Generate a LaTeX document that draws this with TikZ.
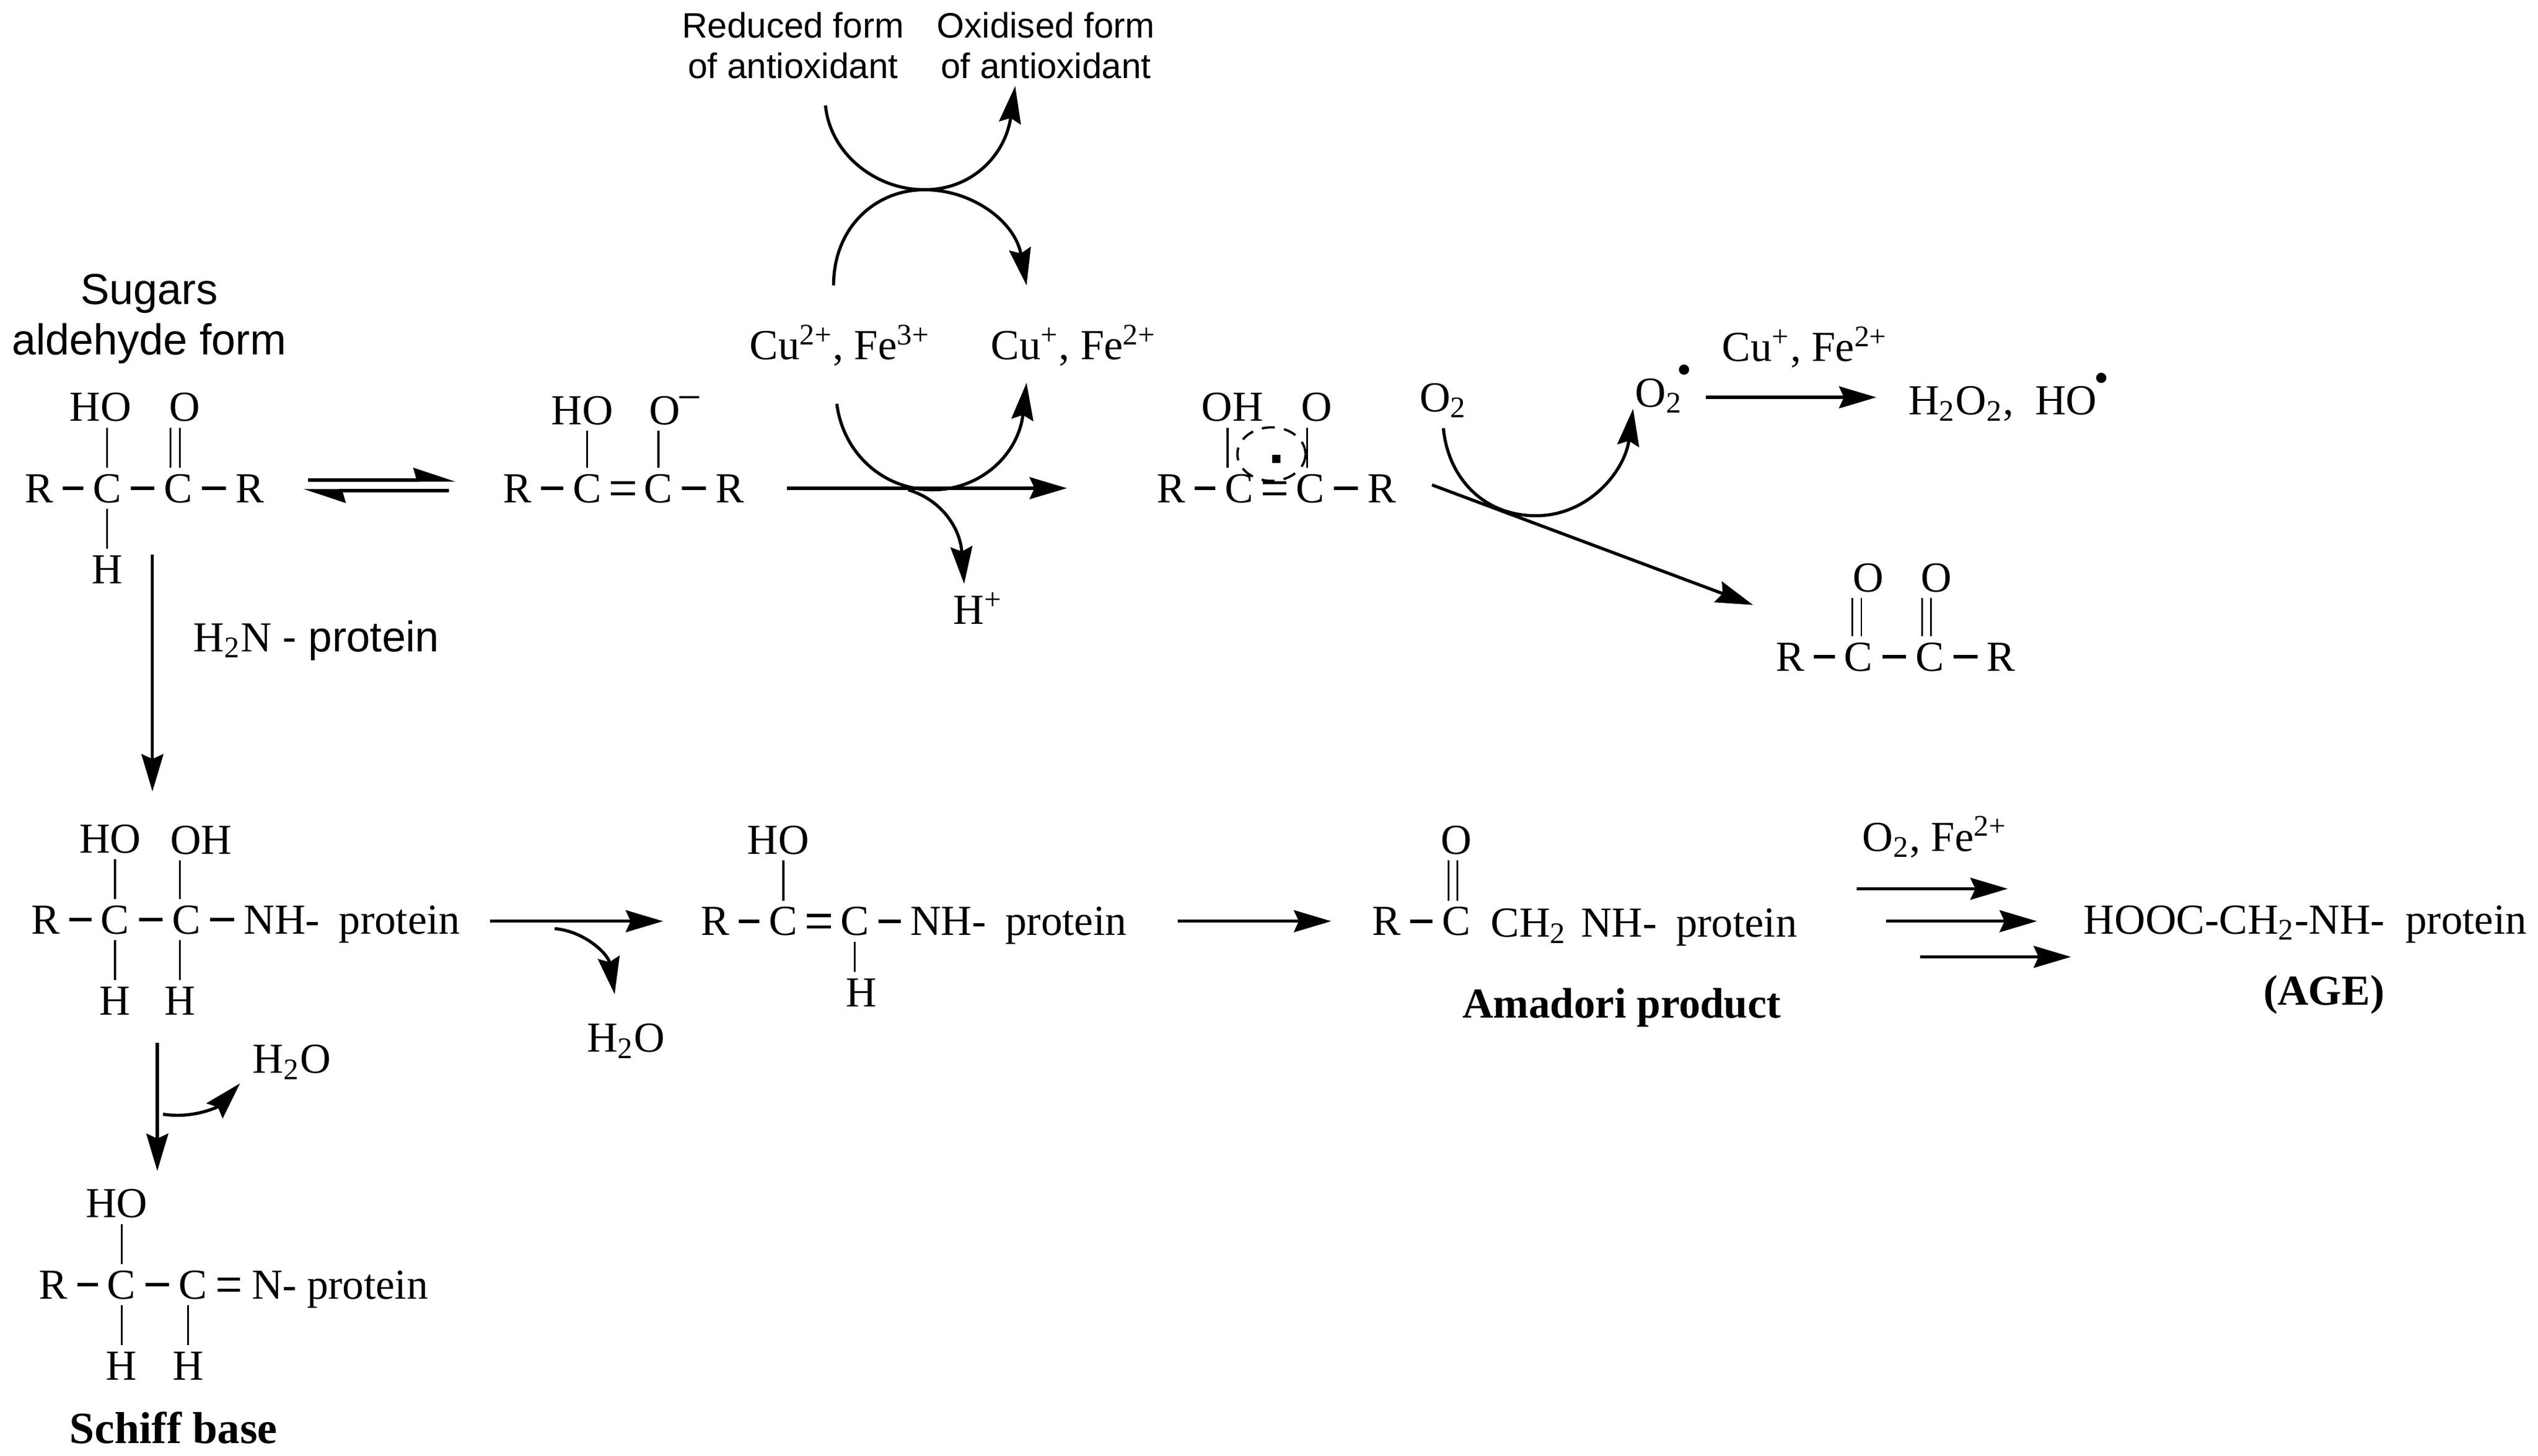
\documentclass[tikz,border=0pt]{standalone}
\usepackage{fontspec}
\setmainfont{Liberation Serif}
\newfontfamily\arialfont{Liberation Sans}
\usetikzlibrary{shapes,shapes.geometric,arrows,arrows.meta}

\begin{document}
\begin{tikzpicture}[x=0.02cm, y=-0.02cm, node distance=0.88cm, font=\fontsize{15}{18}\selectfont]
		% Define the styles for the atoms, labels and lines
		\tikzstyle{atom}=[inner sep=0pt, text height=10pt, text depth=0pt]
		\tikzstyle{note}=[align=center, inner sep=0pt, font=\arialfont\fontsize{12.4}{14.2}\selectfont]
		\tikzstyle{bond}=[line width=1.2pt, shorten <=0.11cm, shorten >=0.11cm]
		\tikzstyle{dbond}=[bond, double, double distance=0.1cm, line width=1.1pt]
		\tikzstyle{vbond}=[line width=0.7pt, shorten <=0.07cm, shorten >=0.07cm]
		\tikzstyle{dvbond}=[vbond, double, double distance=0.09cm, line width=0.6pt]
		\tikzstyle{arr}=[line width=1.1pt, -{Stealth[length=0.46cm, width=0.27cm, inset=0.06cm]}]
		\tikzstyle{half}=[line width=1.1pt, -{Stealth[harpoon, length=0.46cm, width=0.3cm, inset=0.04cm]}]

		\useasboundingbox (0,0) rectangle (1565,897.7);

		% Sugar in aldehyde form
		\node (sugars) [note, font=\arialfont\fontsize{15.2}{18}\selectfont] at (92,181) {Sugars};
		\node (aldehyde) [note, font=\arialfont\fontsize{15.2}{18}\selectfont] at (92,212) {aldehyde form};
		\node (R_ald) [atom] at (24,301) {R};
		\node (C_ald1) [atom, right of=R_ald, xshift=-0.04cm] {C};
		\node (C_ald2) [atom, right of=C_ald1] {C};
		\node (Rr_ald) [atom, right of=C_ald2] {R};
		\node (HO_ald) [atom, node distance=1cm, above of=C_ald1, xshift=-0.08cm] {HO};
		\node (O_ald) [atom, node distance=1cm, above of=C_ald2, xshift=0.08cm] {O};
		\node (H_ald) [atom, node distance=1cm, below of=C_ald1] {H};
		\draw[bond] (R_ald) -- (C_ald1);
		\draw[bond] (C_ald1) -- (C_ald2);
		\draw[bond] (C_ald2) -- (Rr_ald);
		\draw[vbond] (C_ald1.north) -- (C_ald1.north |- HO_ald.south);
		\draw[dvbond] ([xshift=-0.04cm]C_ald2.north) -- ([xshift=-0.04cm]C_ald2.north |- O_ald.south);
		\draw[vbond] (C_ald1.south) -- (H_ald.north);

		% Enolate
		\node (R_eno) [atom] at (319,301) {R};
		\node (C_eno1) [atom, right of=R_eno, xshift=-0.02cm] {C};
		\node (C_eno2) [atom, right of=C_eno1] {C};
		\node (Rr_eno) [atom, right of=C_eno2] {R};
		\node (HO_eno) [atom, node distance=0.96cm, above of=C_eno1, xshift=-0.06cm] {HO};
		\node (O_eno) [atom, node distance=0.96cm, above of=C_eno2, xshift=0.08cm] {O\rlap{\kern-1pt\raisebox{4.5pt}{−}}};
		\draw[bond] (R_eno) -- (C_eno1);
		\draw[dbond] (C_eno1) -- (C_eno2);
		\draw[bond] (C_eno2) -- (Rr_eno);
		\draw[vbond] (C_eno1.north) -- (C_eno1.north |- HO_eno.south);
		\draw[vbond] (C_eno2.north) -- (C_eno2.north |- O_eno.south);

		% Equilibrium between both forms
		\draw[half, shorten <=0.54cm, shorten >=0.58cm] ([yshift=0.1cm]Rr_ald.east) -- ([yshift=0.1cm]R_eno.west);
		\draw[half, shorten <=0.66cm, shorten >=0.48cm] ([yshift=-0.03cm]R_eno.west) -- ([yshift=-0.03cm]Rr_ald.east);

		% Radical form
		\node (R_rad) [atom] at (722,301) {R};
		\node (C_rad1) [atom, right of=R_rad, xshift=-0.04cm] {C};
		\node (C_rad2) [atom, right of=C_rad1] {C};
		\node (Rr_rad) [atom, right of=C_rad2] {R};
		\node (OH_rad) [atom, node distance=1cm, above of=C_rad1, xshift=-0.08cm] {OH};
		\node (O_rad) [atom, node distance=1cm, above of=C_rad2, xshift=0.08cm] {O};
		\node (ring) [ellipse, draw, dash pattern=on 0.16cm off 0.115cm, line width=0.8pt, inner sep=0pt, minimum width=0.84cm, minimum height=0.66cm] at (784,280) {};
		\node (spot) [rectangle, fill, inner sep=0pt, minimum size=0.1cm] at (787,283) {};
		\draw[bond] (R_rad) -- (C_rad1);
		\draw[dbond] (C_rad1) -- (C_rad2);
		\draw[bond] (C_rad2) -- (Rr_rad);
		\draw[vbond] ([xshift=-0.14cm]C_rad1.north) -- ([xshift=-0.14cm]C_rad1.north |- OH_rad.south);
		\draw[vbond] ([xshift=-0.04cm]C_rad2.north) -- ([xshift=-0.04cm]C_rad2.north |- O_rad.south);

		% Antioxidant and metal ions
		\node (reduced) [note] at (489,28) {Reduced form\\of antioxidant};
		\node (oxidised) [note] at (645,28) {Oxidised form\\of antioxidant};
		\node (metal_ox) [atom] at (518,213) {Cu\textsuperscript{2+}, Fe\textsuperscript{3+}};
		\node (metal_red) [atom] at (662,213) {Cu\textsuperscript{+}, Fe\textsuperscript{2+}};
		\node (Hplus) [atom] at (603,376) {H\textsuperscript{+}};
		\coordinate (reduced_end) at (509,65);
		\coordinate (oxidised_end) at (626,53);
		\coordinate (metal_ox_up) at (514,176);
		\coordinate (metal_red_up) at (633,176);
		\coordinate (metal_ox_down) at (516,249);
		\coordinate (metal_red_down) at (633,236);
		\coordinate (Hplus_start) at (560,302);
		\coordinate (Hplus_end) at (594.5,360);
		\draw[arr] (reduced_end) .. controls (512,95) and (540,117) .. (570,117) .. controls (600,117) and (620,95) .. (oxidised_end);
		\draw[arr] (metal_ox_up) .. controls (514,140) and (540,117) .. (570,117) .. controls (600,117) and (626,137) .. (metal_red_up);
		\draw[arr] (metal_ox_down) .. controls (520,280) and (545,302) .. (575,302) .. controls (605,302) and (628,280) .. (metal_red_down);
		\draw[arr, shorten <=0.52cm, shorten >=1.1cm] (Rr_eno.east) -- (R_rad.west);
		\draw[arr] (Hplus_start) .. controls (580,308) and (592,325) .. (Hplus_end);

		% Oxygen and its radical
		\node (O2_in) [atom] at (890,245) {O\textsubscript{2}};
		\node (O2_out) [atom, anchor=west] at (1008,242) {O\textsubscript{2}\raisebox{8pt}{\kern-2pt\textbullet}};
		\node (metal_up) [atom] at (1113,214) {Cu\textsuperscript{+}, Fe\textsuperscript{2+}};
		\node (peroxide) [atom, anchor=west] at (1176.5,247) {H\textsubscript{2}O\textsubscript{2},\ \ HO\raisebox{8pt}{\kern-1pt\textbullet}};
		\coordinate (O2_in_end) at (890,264);
		\coordinate (O2_out_end) at (1007,252);
		\coordinate (O2_out_start) at (1052,245);
		\coordinate (peroxide_end) at (1157,245);
		\coordinate (rad_start) at (883,299);
		\coordinate (dik_end) at (1081,373);
		\draw[arr] (O2_in_end) .. controls (893,295) and (915,318) .. (947,318) .. controls (980,318) and (1002,290) .. (O2_out_end);
		\draw[arr] (O2_out_start) -- (peroxide_end);
		\draw[arr] (rad_start) -- (dik_end);

		% Dicarbonyl
		\node (R_dik) [atom] at (1104,405) {R};
		\node (C_dik1) [atom, right of=R_dik, xshift=-0.04cm] {C};
		\node (C_dik2) [atom, right of=C_dik1] {C};
		\node (Rr_dik) [atom, right of=C_dik2] {R};
		\node (O_dik1) [atom, node distance=0.98cm, above of=C_dik1, xshift=0.12cm] {O};
		\node (O_dik2) [atom, node distance=0.98cm, above of=C_dik2, xshift=0.08cm] {O};
		\draw[bond] (R_dik) -- (C_dik1);
		\draw[bond] (C_dik1) -- (C_dik2);
		\draw[bond] (C_dik2) -- (Rr_dik);
		\draw[dvbond] ([xshift=-0.02cm]C_dik1.north) -- ([xshift=-0.02cm]C_dik1.north |- O_dik1.south);
		\draw[dvbond] ([xshift=-0.04cm]C_dik2.north) -- ([xshift=-0.04cm]C_dik2.north |- O_dik2.south);

		% Protein adduct
		\coordinate (ald_down) at (94,342);
		\coordinate (add_up) at (94,488);
		\node (amine) [atom, anchor=west] at (119,393) {H\textsubscript{2}N {\arialfont - protein}};
		\draw[arr] (ald_down) -- (add_up);
		\node (R_add) [atom] at (28,567) {R};
		\node (C_add1) [atom, right of=R_add, xshift=-0.02cm] {C};
		\node (C_add2) [atom, right of=C_add1] {C};
		\node (NH_add) [atom, anchor=west] at (150,567) {NH-\hspace{3pt} protein};
		\node (HO_add) [atom, node distance=1cm, above of=C_add1, xshift=-0.06cm] {HO};
		\node (OH_add) [atom, node distance=0.98cm, above of=C_add2, xshift=0.18cm] {OH};
		\node (H_add1) [atom, node distance=1cm, below of=C_add1] {H};
		\node (H_add2) [atom, node distance=1cm, below of=C_add2, xshift=-0.08cm] {H};
		\draw[bond] (R_add) -- (C_add1);
		\draw[bond] (C_add1) -- (C_add2);
		\draw[bond] (C_add2) -- (NH_add.west);
		\draw[vbond] (C_add1.north) -- (C_add1.north |- HO_add.south);
		\draw[vbond] ([xshift=-0.08cm]C_add2.north) -- ([xshift=-0.08cm]C_add2.north |- OH_add.south);
		\draw[vbond] (C_add1.south) -- (H_add1.north);
		\draw[vbond] ([xshift=-0.08cm]C_add2.south) -- (H_add2.north);

		% Water lost on the way to the Schiff base
		\coordinate (add_down) at (97,643);
		\coordinate (sch_up) at (97,722);
		\coordinate (water_start) at (100.5,687);
		\coordinate (water_end) at (148,668);
		\node (water_sch) [atom] at (180,653) {H\textsubscript{2}O};
		\draw[arr] (add_down) -- (sch_up);
		\draw[arr] (water_start) .. controls (120,690) and (135,682) .. (water_end);

		% Schiff base
		\node (R_sch) [atom] at (33,792) {R};
		\node (C_sch1) [atom, right of=R_sch, xshift=-0.04cm] {C};
		\node (C_sch2) [atom, right of=C_sch1] {C};
		\node (N_sch) [atom, anchor=west] at (155,792) {N-\hspace{3.5pt}protein};
		\node (HO_sch) [atom, node distance=1cm, above of=C_sch1, xshift=-0.06cm] {HO};
		\node (H_sch1) [atom, node distance=1cm, below of=C_sch1] {H};
		\node (H_sch2) [atom, node distance=1cm, below of=C_sch2, xshift=-0.06cm] {H};
		\node (schiff) [atom, font=\fontsize{15.7}{18}\selectfont] at (107,881) {\textbf{Schiff base}};
		\draw[bond] (R_sch) -- (C_sch1);
		\draw[bond] (C_sch1) -- (C_sch2);
		\draw[dbond, shorten <=0.12cm, shorten >=0.14cm] (C_sch2) -- (N_sch.west);
		\draw[vbond] (C_sch1.north) -- (C_sch1.north |- HO_sch.south);
		\draw[vbond] (C_sch1.south) -- (H_sch1.north);
		\draw[vbond] ([xshift=-0.06cm]C_sch2.south) -- (H_sch2.north);

		% Enol amine
		\node (R_eol) [atom] at (441,568) {R};
		\node (C_eol1) [atom, right of=R_eol, xshift=-0.04cm] {C};
		\node (C_eol2) [atom, right of=C_eol1] {C};
		\node (NH_eol) [atom, anchor=west] at (561,568) {NH-\hspace{3pt} protein};
		\node (HO_eol) [atom, node distance=1cm, above of=C_eol1, xshift=-0.06cm] {HO};
		\node (H_eol) [atom, node distance=0.88cm, below of=C_eol2, xshift=0.08cm] {H};
		\node (water_eol) [atom] at (386,640) {H\textsubscript{2}O};
		\coordinate (water_eol_start) at (342,572.6);
		\coordinate (water_eol_end) at (379,613);
		\draw[bond] (R_eol) -- (C_eol1);
		\draw[dbond] (C_eol1) -- (C_eol2);
		\draw[bond] (C_eol2) -- (NH_eol.west);
		\draw[vbond] (C_eol1.north) -- (C_eol1.north |- HO_eol.south);
		\draw[vbond] (C_eol2.south) -- (C_eol2.south |- H_eol.north);
		\draw[arr, shorten <=0.36cm, shorten >=0.46cm] (NH_add.east |- R_eol) -- (R_eol.west);
		\draw[arr] (water_eol_start) .. controls (360,574) and (375,588) .. (water_eol_end);

		% Amadori product
		\node (R_ama) [atom] at (855,568) {R};
		\node (C_ama) [atom, right of=R_ama, xshift=-0.02cm] {C};
		\node (O_ama) [atom, node distance=1cm, above of=C_ama] {O};
		\node (CH_ama) [atom, anchor=west] at (919,569) {CH\textsubscript{2}};
		\node (NH_ama) [atom, anchor=west] at (974.5,569) {NH-\hspace{3pt} protein};
		\node (amadori) [atom] at (1000,619) {\textbf{Amadori product}};
		\draw[bond] (R_ama) -- (C_ama);
		\draw[dvbond] ([xshift=-0.04cm]C_ama.north) -- ([xshift=-0.04cm]C_ama.north |- O_ama.south);
		\draw[arr, shorten <=0.62cm, shorten >=0.5cm] (NH_eol.east) -- (R_ama.west);

		% Advanced glycation end product
		\node (oxy) [atom] at (1193,516) {O\textsubscript{2}, Fe\textsuperscript{2+}};
		\node (age) [atom, anchor=west] at (1284.5,567) {HOOC-CH\textsubscript{2}-NH-\hspace{3.5pt} protein};
		\node (age_name) [atom] at (1433,611) {\textbf{(AGE)}};
		\coordinate (age_a) at (1145,548);
		\coordinate (age_b) at (1163,568);
		\coordinate (age_c) at (1184,590);
		\coordinate (age_a_end) at (1238,548);
		\coordinate (age_b_end) at (1256,568);
		\coordinate (age_c_end) at (1277,590);
		\draw[arr] (age_a) -- (age_a_end);
		\draw[arr] (age_b) -- (age_b_end);
		\draw[arr] (age_c) -- (age_c_end);
	\end{tikzpicture}
\end{document}
